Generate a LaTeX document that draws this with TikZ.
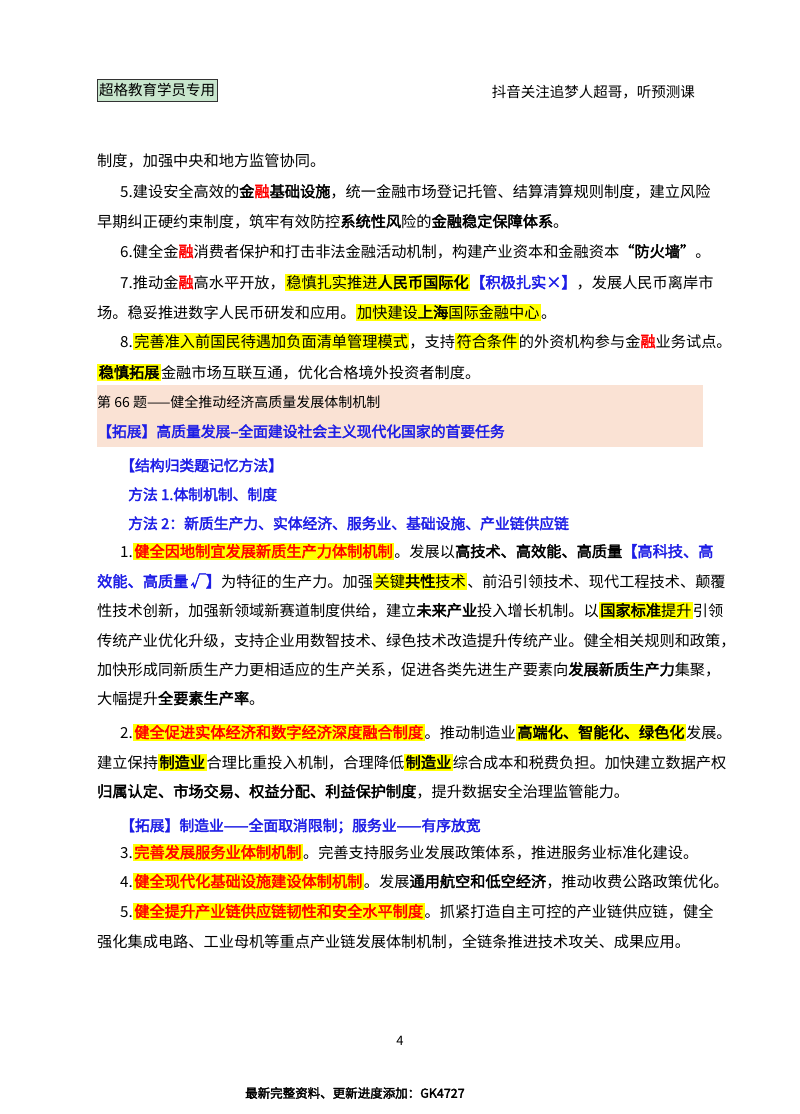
\documentclass[tikz,border=0pt]{standalone}
\usepackage{fontspec}
\setmainfont{Noto Sans CJK SC}[AutoFakeBold=2.5]
\XeTeXlinebreaklocale "zh"
\XeTeXlinebreakskip=0pt plus 3pt
\definecolor{hly}{RGB}{255,255,0}
\definecolor{rd}{RGB}{255,0,0}
\definecolor{bl}{RGB}{30,30,230}
\definecolor{pinkband}{RGB}{250,226,212}
\definecolor{hdrbox}{RGB}{200,230,205}
\newcommand{\hlt}[1]{{\setlength{\fboxsep}{1.5pt}\colorbox{hly}{#1}}}
\newcommand{\rdb}[1]{\hlt{\textcolor{rd}{\bfseries #1}}}
\newcommand{\bd}[1]{{\bfseries #1}}
\newcommand{\blu}[1]{\textcolor{bl}{\bfseries #1}}
\newcommand{\rone}[1]{\textcolor{rd}{\bfseries #1}}
\newcommand{\full}[2]{\hbox to #1pt{#2}}
\begin{document}
\begin{tikzpicture}[x=1pt,y=-1pt,ln/.style={anchor=base west,inner sep=0pt,font=\fontsize{15.2}{18}\selectfont},
  bln/.style={ln,font=\fontsize{14.8}{17}\selectfont}]
\useasboundingbox (0,0) rectangle (800,1114);
\fill[white] (0,0) rectangle (800,1114);
% header
\node[draw=black!80,fill=hdrbox,inner sep=2pt,anchor=west,font=\fontsize{14.5}{17}\selectfont,minimum height=22pt] (hdr) at (97,90) {超格教育学员专用};
\node[anchor=east,inner sep=0pt,font=\fontsize{14.5}{17}\selectfont] (hdr2) at (695,92) {抖音关注追梦人超哥，听预测课};
% pink band
\fill[pinkband] (97,385) rectangle (703,447);
\node[ln] (l1) at (97,166) {制度，加强中央和地方监管协同。};
\node[ln] (l2) at (120,197) {\full{583}{5.建设安全高效的\bd{金}\rone{融}\bd{基础设施}，统一金融市场登记托管、结算清算规则制度，建立风险}};
\node[ln] (l3) at (97,227) {早期纠正硬约束制度，筑牢有效防控\bd{系统性风}险的\bd{金融稳定保障体系}。};
\node[ln] (l4) at (120,257) {6.健全金\rone{融}消费者保护和打击非法金融活动机制，构建产业资本和金融资本\bd{“防火墙”}。};
\node[ln] (l5) at (120,288) {\full{583}{7.推动金\rone{融}高水平开放，\hlt{稳慎扎实推进\bd{人民币国际化}}\blu{【积极扎实×】}，发展人民币离岸市}};
\node[ln] (l6) at (97,318) {场。稳妥推进数字人民币研发和应用。\hlt{加快建设\bd{上海}国际金融中心}。};
\node[ln] (l7) at (120,347) {\full{583}{8.\hlt{完善准入前国民待遇加负面清单管理模式}，支持\hlt{符合条件}的外资机构参与金\rone{融}业务试点。}};
\node[ln] (l8) at (97,378) {\hlt{\bd{稳慎拓展}}金融市场互联互通，优化合格境外投资者制度。};
\node[ln,font=\fontsize{14}{17}\selectfont] (t1) at (97,407) {第 66 题——健全推动经济高质量发展体制机制};
\node[bln] (t2) at (97,437) {\blu{【拓展】高质量发展–全面建设社会主义现代化国家的首要任务}};
\node[bln] (m0) at (120,471) {\blu{【结构归类题记忆方法】}};
\node[bln] (m1) at (128,500) {\blu{方法 1.体制机制、制度}};
\node[bln] (m2) at (128,529) {\blu{方法 2：新质生产力、实体经济、服务业、基础设施、产业链供应链}};
\node[ln] (a1) at (120,557) {\full{583}{1.\rdb{健全因地制宜发展新质生产力体制机制}。发展以\bd{高技术、高效能、高质量}\blu{【高科技、高}}};
\node[ln] (a2) at (97,587) {\full{606}{\blu{效能、高质量 √】}为特征的生产力。加强\hlt{关键\bd{共性}技术}、前沿引领技术、现代工程技术、颠覆}};
\node[ln] (a3) at (97,616) {\full{606}{性技术创新，加强新领域新赛道制度供给，建立\bd{未来产业}投入增长机制。以\hlt{\bd{国家标准}提升}引领}};
\node[ln] (a4) at (97,646) {\full{606}{传统产业优化升级，支持企业用数智技术、绿色技术改造提升传统产业。健全相关规则和政策，}};
\node[ln] (a5) at (97,675) {\full{606}{加快形成同新质生产力更相适应的生产关系，促进各类先进生产要素向\bd{发展新质生产力}集聚，}};
\node[ln] (a6) at (97,704) {大幅提升\bd{全要素生产率}。};
\node[ln] (b1) at (120,738) {\full{583}{2.\rdb{健全促进实体经济和数字经济深度融合制度}。推动制造业\hlt{\bd{高端化、智能化、绿色化}}发展。}};
\node[ln] (b2) at (97,768) {\full{606}{建立保持\hlt{\bd{制造业}}合理比重投入机制，合理降低\hlt{\bd{制造业}}综合成本和税费负担。加快建立数据产权}};
\node[ln] (b3) at (97,797) {\bd{归属认定、市场交易、权益分配、利益保护制度}，提升数据安全治理监管能力。};
\node[bln] (x1) at (120,831) {\blu{【拓展】制造业——全面取消限制；服务业——有序放宽}};
\node[ln] (c1) at (120,858) {3.\rdb{完善发展服务业体制机制}。完善支持服务业发展政策体系，推进服务业标准化建设。};
\node[ln] (d1) at (120,887) {\full{583}{4.\rdb{健全现代化基础设施建设体制机制}。发展\bd{通用航空和低空经济}，推动收费公路政策优化。}};
\node[ln] (e1) at (120,917) {\full{583}{5.\rdb{健全提升产业链供应链韧性和安全水平制度}。抓紧打造自主可控的产业链供应链，健全}};
\node[ln] (e2) at (97,947) {强化集成电路、工业母机等重点产业链发展体制机制，全链条推进技术攻关、成果应用。};
\node[anchor=center,inner sep=0pt,font=\fontsize{13}{15}\selectfont] (pg) at (400,1041) {4};
\node[anchor=west,inner sep=0pt,font=\fontsize{12.5}{15}\selectfont\bfseries] (ft) at (245,1093) {最新完整资料、更新进度添加：GK4727};
\end{tikzpicture}
\end{document}
